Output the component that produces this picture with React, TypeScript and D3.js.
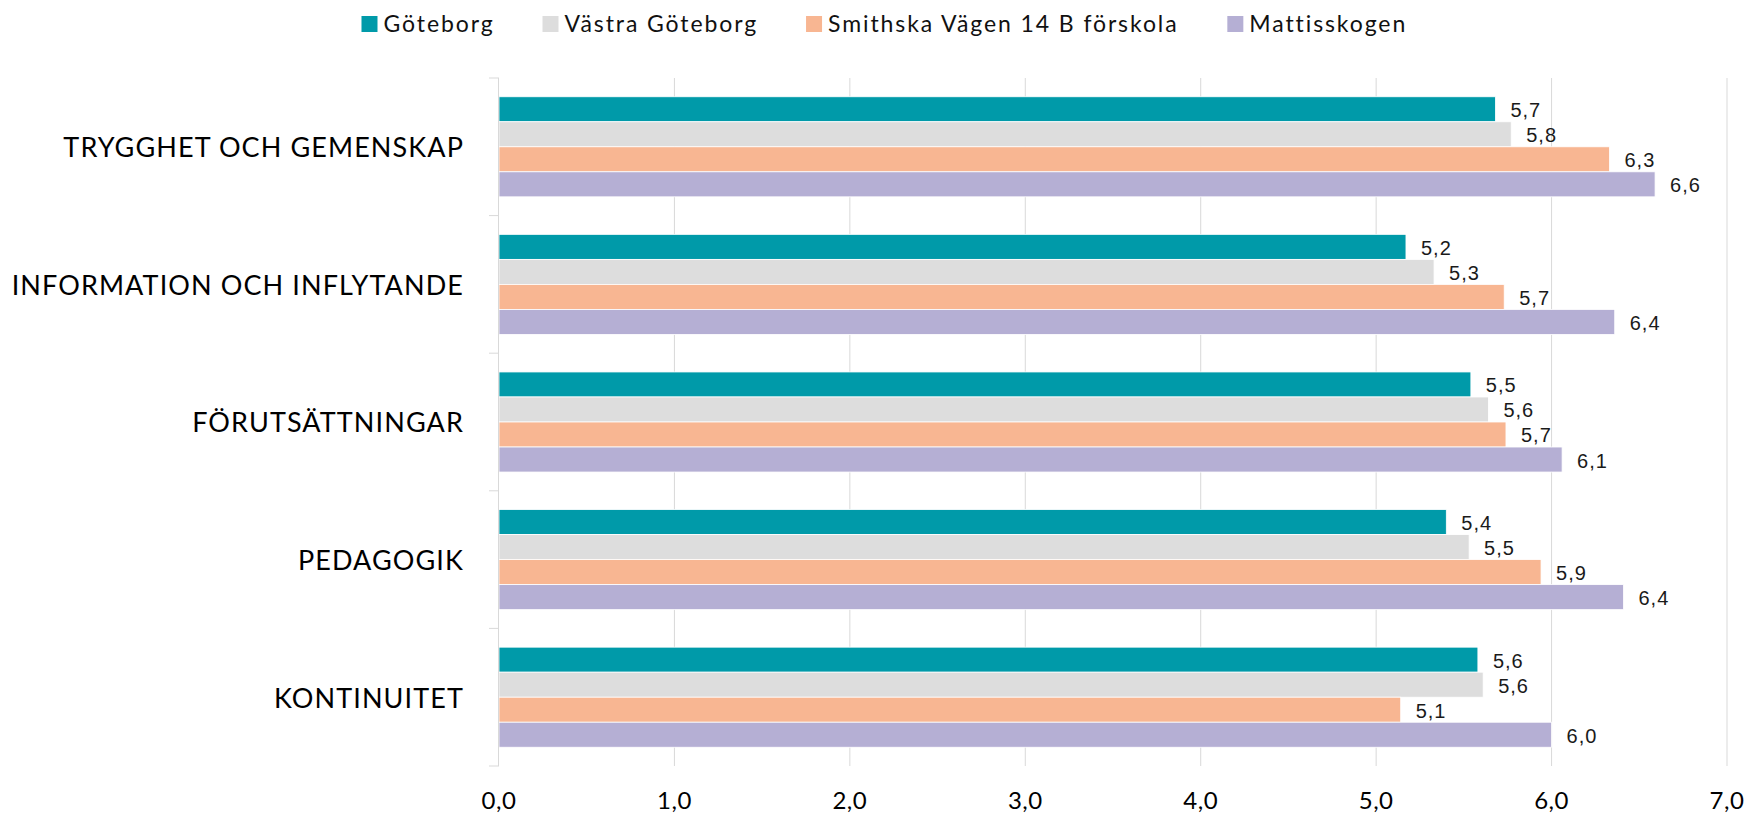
import * as d3 from 'd3';

const categories = [
  'TRYGGHET OCH GEMENSKAP',
  'INFORMATION OCH INFLYTANDE',
  'FÖRUTSÄTTNINGAR',
  'PEDAGOGIK',
  'KONTINUITET',
];
const seriesNames = ['Göteborg', 'Västra Göteborg', 'Smithska Vägen 14 B förskola', 'Mattisskogen'];
const seriesColors = ['#009aa9', '#dddddd', '#f8b692', '#b5afd4'];

// one array per series, same order as categories
const goteborg = [5.68, 5.17, 5.54, 5.4, 5.58];
const vastraGoteborg = [5.77, 5.33, 5.64, 5.53, 5.61];
const smithska = [6.33, 5.73, 5.74, 5.94, 5.14];
const mattisskogen = [6.59, 6.36, 6.06, 6.41, 6.0];
const seriesValues = [goteborg, vastraGoteborg, smithska, mattisskogen];

const xTicks = [0, 1, 2, 3, 4, 5, 6, 7];

const W = 1746;
const H = 814;
const CAT_FONT = 'Lato, "Open Sans", sans-serif';

const measure = (text: string, font: string) => {
  const ctx = document.createElement('canvas').getContext('2d');
  if (!ctx) return text.length * 10;
  ctx.font = font;
  return ctx.measureText(text).width;
};

export default function App() {
  const plot = { left: 499, right: 1727, top: 78, bottom: 766 };

  const x = d3.scaleLinear().domain([0, 7]).range([plot.left, plot.right]);
  const y = d3.scaleBand<string>().domain(categories).range([plot.top, plot.bottom]);
  const inner = d3.scaleBand<string>().domain(seriesNames).range([0, y.bandwidth()]).paddingOuter(0.75);
  const fmt = (v: number) => d3.format('.1f')(v).replace('.', ',');

  // legend layout
  const legendSize = 23;
  const legendLs = 1.9;
  const swatch = 16;
  const textOff = 22;
  const gap = 48;
  const widths = seriesNames.map(
    (s) => textOff + measure(s, `${legendSize}px Lato`) + s.length * legendLs
  );
  const total = d3.sum(widths) + gap * (seriesNames.length - 1);
  let lx = 884 - total / 2;
  const legendX = widths.map((w) => {
    const p = lx;
    lx += w + gap;
    return p;
  });

  const boundaries = [...categories.map((c) => y(c) as number), plot.bottom];

  return (
    <svg width={W} height={H} style={{ position: 'absolute', left: 0, top: 0, display: 'block', background: '#fff' }}>
      {/* legend */}
      {seriesNames.map((s, i) => (
        <g key={s} transform={`translate(${legendX[i]},24)`}>
          <rect x={0} y={-swatch / 2} width={swatch} height={swatch} fill={seriesColors[i]} />
          <text
            x={textOff}
            dy="0.35em"
            fontFamily={CAT_FONT}
            fontSize={legendSize}
            letterSpacing={legendLs}
            fill="#111"
          >
            {s}
          </text>
        </g>
      ))}

      {/* gridlines */}
      {xTicks.slice(1).map((t) => (
        <line key={t} x1={x(t)} x2={x(t)} y1={plot.top} y2={plot.bottom} stroke="#d9d9d9" strokeWidth={1} />
      ))}

      {/* bars */}
      {categories.map((c, ci) => (
        <g key={c} transform={`translate(0,${y(c)})`}>
          {seriesNames.map((s, si) => {
            const v = seriesValues[si][ci];
            const by = inner(s) as number;
            return (
              <g key={s}>
                <rect
                  x={x(0)}
                  y={by}
                  width={x(v) - x(0)}
                  height={inner.bandwidth()}
                  fill={seriesColors[si]}
                  stroke="#fff"
                  strokeWidth={0.8}
                />
                <text
                  x={x(v) + 15}
                  y={by + inner.bandwidth() / 2 + 1}
                  dy="0.35em"
                  fontFamily='"Liberation Sans", Arial, sans-serif'
                  fontSize={20}
                  fill="#1a1a1a"
                  letterSpacing={1}
                >
                  {fmt(v)}
                </text>
              </g>
            );
          })}
        </g>
      ))}

      {/* category axis */}
      <line x1={plot.left - 0.5} x2={plot.left - 0.5} y1={plot.top} y2={plot.bottom} stroke="#d9d9d9" strokeWidth={1} />
      {boundaries.map((b, i) => (
        <line key={i} x1={plot.left - 10} x2={plot.left} y1={b} y2={b} stroke="#d9d9d9" strokeWidth={1} />
      ))}
      {categories.map((c) => (
        <text
          key={c}
          x={464}
          y={(y(c) as number) + y.bandwidth() / 2 + 1}
          dy="0.35em"
          textAnchor="end"
          fontFamily={CAT_FONT}
          fontSize={27}
          letterSpacing={1.1}
          fill="#000"
        >
          {c}
        </text>
      ))}

      {/* value axis labels */}
      {xTicks.map((t) => (
        <text
          key={t}
          x={x(t)}
          y={801}
          dy="0.35em"
          textAnchor="middle"
          fontFamily={CAT_FONT}
          fontSize={24}
          letterSpacing={0.5}
          fill="#000"
        >
          {fmt(t)}
        </text>
      ))}
    </svg>
  );
}
